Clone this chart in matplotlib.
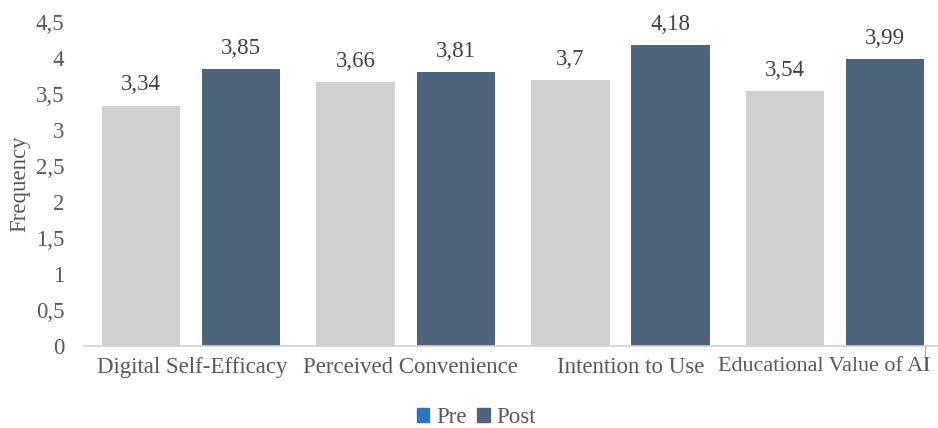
import numpy as np
import matplotlib
matplotlib.use("Agg")
from matplotlib import pyplot as plt
from matplotlib.patches import Patch
import matplotlib.transforms as mtransforms

categories = ["Digital Self-Efficacy", "Perceived Convenience", "Intention to Use", "Educational Value of AI"]
pre = [3.34, 3.66, 3.70, 3.54]
post = [3.85, 3.81, 4.18, 3.99]
pre_labels = ["3,34", "3,66", "3,7", "3,54"]
post_labels = ["3,85", "3,81", "4,18", "3,99"]
yticks = [0, 0.5, 1, 1.5, 2, 2.5, 3, 3.5, 4, 4.5]
ytick_labels = ["0", "0,5", "1", "1,5", "2", "2,5", "3", "3,5", "4", "4,5"]

plt.rcParams['font.family'] = ['Liberation Serif', 'DejaVu Serif']
txt = "#595959"
fs = 16.5

fig = plt.figure(figsize=(9.38, 4.28), dpi=100)
# the chart is cropped on the right in the original, so the axes runs past the figure edge
ax = fig.add_axes([0.0891, 0.1916, 0.9158, 0.757])

x = np.arange(len(categories))
w = 0.365
off = 0.233
b1 = ax.bar(x - off, pre, w, color="#d0d0d0")
b2 = ax.bar(x + off, post, w, color="#4e647c")

for rect, lab in zip(list(b1) + list(b2), pre_labels + post_labels):
    ax.text(rect.get_x() + rect.get_width() / 2, rect.get_height() + 0.14, lab,
            ha="center", va="bottom", fontsize=fs, color="#404040")

ax.set_xlim(-0.5, 3.5)
ax.set_ylim(0, 4.5)
ax.set_yticks(yticks)
ax.set_yticklabels(ytick_labels)
ax.set_xticks(x)
# last label is pushed left to stay inside the cropped picture
ax.set_xticklabels(categories[:-1] + [""])
ax.annotate(categories[-1], xy=(3.445, 0), xycoords=("data", "axes fraction"),
            xytext=(0, -8), textcoords="offset points", ha="right", va="top",
            fontsize=fs - 0.6, color=txt)
ax.tick_params(axis="both", length=0, labelsize=fs, labelcolor=txt)
ax.tick_params(axis="y", pad=14)
ax.tick_params(axis="x", pad=8)

# small horizontal nudges so labels sit like in the original
shifts = [1, 5, 10, 0]
for lbl, dx in zip(ax.get_xticklabels(), shifts):
    lbl.set_transform(lbl.get_transform() + mtransforms.ScaledTranslation(dx / 100, 0, fig.dpi_scale_trans))

for s in ["top", "right", "left"]:
    ax.spines[s].set_visible(False)
ax.spines["bottom"].set_color("#d0d0d0")
ax.spines["bottom"].set_linewidth(1.2)
# thin vertical mark near the right end
ax.plot([3.42, 3.42], [0, -0.32], color="#b0b0b0", lw=1.0, clip_on=False)

ax.set_ylabel("Frequency", fontsize=fs, color=txt, labelpad=4)

handles = [Patch(color="#2e74c0", label="Pre"), Patch(color="#4e647c", label="Post")]
fig.legend(handles=handles, loc="center", bbox_to_anchor=(0.508, 0.025), ncol=2, frameon=False,
           fontsize=fs, labelcolor=txt, handlelength=0.55, handleheight=0.55, handletextpad=0.3,
           columnspacing=0.45)

fig.savefig("out.png", dpi=100)
